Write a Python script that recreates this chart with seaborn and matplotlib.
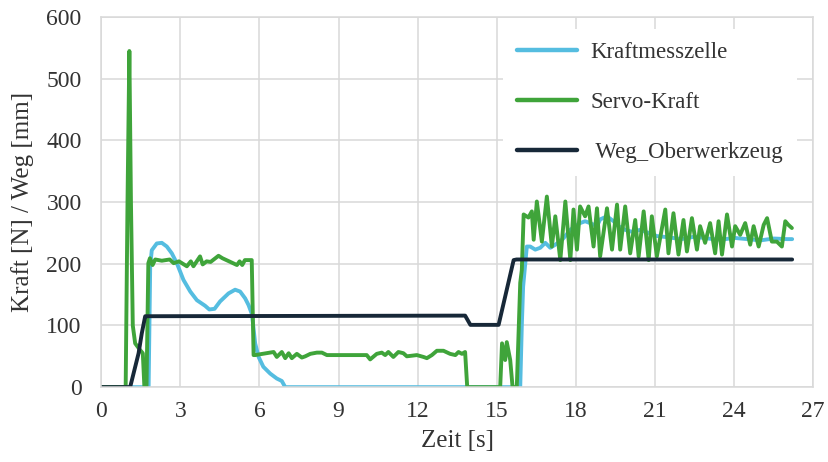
import pandas as pd
import matplotlib.pyplot as plt
import seaborn as sns

# Kraftmesszelle (load cell)
t_kmz = [0, 1.8, 1.86, 1.92, 2.11, 2.3, 2.49, 2.68, 2.87, 3.12, 3.38, 3.63, 3.94, 4.1, 4.3,
         4.51, 4.83, 5.08, 5.27, 5.46, 5.59, 5.72, 5.84, 5.97, 6.15, 6.41, 6.66, 6.85, 6.98,
         15.89, 15.95, 16.0, 16.14, 16.27, 16.46, 16.65, 16.84, 17.03, 17.22, 17.5, 17.79,
         17.97, 18.16, 18.35, 18.54, 18.8, 18.92, 19.18, 19.43, 19.62, 19.87, 20.12, 20.44,
         20.76, 21.07, 21.5, 22.0, 22.5, 23.0, 23.5, 24.0, 24.5, 25.0, 25.5, 26.0, 26.2]
kmz = [0, 0, 196, 222, 233, 234, 228, 217, 201, 174, 155, 141, 132, 126, 127,
       139, 152, 158, 155, 144, 133, 118, 71, 49, 33, 22, 14, 10, 0,
       0, 100, 163, 228, 228, 223, 226, 234, 226, 231, 240, 255,
       261, 266, 269, 266, 261, 272, 277, 269, 261, 255, 252, 255,
       250, 245, 243, 240, 244, 241, 239, 242, 240, 238, 241, 240, 240]

# Servo-Kraft
t_servo = [0, 0.93, 1.0, 1.07, 1.13, 1.2, 1.29, 1.48, 1.58, 1.64, 1.72, 1.79, 1.85, 1.95,
           2.05, 2.3, 2.6, 2.75, 2.95, 3.1, 3.25, 3.4, 3.5, 3.75, 3.85, 4.0, 4.15, 4.45,
           4.6, 4.85, 5.15, 5.25, 5.35, 5.45, 5.71, 5.78, 5.84, 6.54, 6.66, 6.85, 6.98,
           7.11, 7.23, 7.42, 7.61, 7.74, 7.93, 8.18, 8.37, 8.56, 9.0, 9.5, 10.07, 10.2,
           10.45, 10.64, 10.77, 10.89, 11.08, 11.27, 11.46, 11.59, 11.97, 12.22, 12.35,
           12.54, 12.73, 12.98, 13.23, 13.43, 13.55, 13.68, 13.8, 13.88, 15.13, 15.2,
           15.32, 15.38, 15.51, 15.6, 15.76, 15.89, 15.95, 16.02, 16.2, 16.33, 16.4, 16.52,
           16.71, 16.9, 17.09, 17.22, 17.41, 17.6, 17.79, 17.91, 18.04, 18.16, 18.35,
           18.48, 18.67, 18.8, 18.92, 19.18, 19.37, 19.56, 19.68, 19.87, 20.06, 20.25,
           20.38, 20.57, 20.76, 20.88, 21.07, 21.39, 21.51, 21.7, 21.89, 22.08, 22.21,
           22.4, 22.59, 22.71, 22.9, 23.09, 23.28, 23.41, 23.54, 23.73, 23.92, 24.04,
           24.23, 24.42, 24.61, 24.74, 24.93, 25.12, 25.25, 25.43, 25.62, 25.81, 25.94,
           26.06, 26.19]
servo = [0, 0, 300, 545, 300, 100, 71, 60, 55, 0, 0, 201, 209, 198,
         207, 205, 207, 201, 204, 200, 196, 204, 196, 212, 199, 204, 203, 213,
         209, 204, 198, 204, 198, 206, 206, 52, 52, 57, 49, 57, 47,
         55, 47, 54, 48, 50, 54, 56, 56, 52, 52, 52, 52, 45,
         54, 56, 52, 57, 49, 57, 55, 50, 52, 49, 47,
         52, 59, 59, 54, 52, 57, 54, 57, 0, 0, 71,
         44, 73, 44, 0, 0, 169, 190, 280, 275, 285, 239, 301,
         236, 309, 228, 277, 206, 301, 206, 288, 223, 293, 277,
         293, 228, 290, 212, 290, 223, 296, 223, 293, 217, 271,
         212, 285, 206, 277, 212, 288, 217, 282, 215, 271, 220,
         274, 223, 261, 234, 266, 217, 269, 215, 280, 228, 261,
         247, 266, 231, 261, 228, 263, 274, 236, 236, 228, 269,
         263, 258]

# Weg_Oberwerkzeug
t_weg = [0, 1.1, 1.42, 1.54, 1.67, 1.75, 13.8, 14.0, 15.07, 15.64, 15.75, 26.2]
weg = [0, 0, 55, 87, 115, 115, 116, 101, 101, 206, 207, 207]

labels = ["Kraftmesszelle", "Servo-Kraft", " Weg_Oberwerkzeug"]

df = pd.concat([
    pd.DataFrame({"Zeit": t_kmz, "Wert": kmz, "Signal": labels[0]}),
    pd.DataFrame({"Zeit": t_servo, "Wert": servo, "Signal": labels[1]}),
    pd.DataFrame({"Zeit": t_weg, "Wert": weg, "Signal": labels[2]}),
], ignore_index=True)

sns.set_theme(style="whitegrid")
plt.rcParams["font.family"] = ["Liberation Serif", "DejaVu Serif"]

palette = {labels[0]: "#55BDE0", labels[1]: "#3FA43A", labels[2]: "#172838"}

fig = plt.figure(figsize=(8.29, 4.62), dpi=100)
ax = fig.add_axes([0.122, 0.162, 0.859, 0.801])

sns.lineplot(data=df, x="Zeit", y="Wert", hue="Signal", palette=palette,
             estimator=None, sort=False, linewidth=2.8, ax=ax)

ax.set_xlim(0, 27)
ax.set_ylim(0, 600)
ax.set_xticks(range(0, 28, 3))
ax.set_yticks(range(0, 601, 100))
ax.grid(True, color="#D9D9D9", linewidth=1.1)
for s in ax.spines.values():
    s.set_color("#D9D9D9")
    s.set_linewidth(1.1)
ax.tick_params(axis="both", length=0, labelsize=17, colors="#333333")
ax.tick_params(axis="y", pad=14)
ax.tick_params(axis="x", pad=10)

ax.set_xlabel("Zeit [s]", fontsize=18, color="#333333", labelpad=6)
ax.set_ylabel("Kraft [N] / Weg [mm]", fontsize=18, color="#333333", labelpad=9)

leg = ax.legend(loc="upper right", bbox_to_anchor=(0.993, 1.0), fontsize=16.5,
                frameon=True, facecolor="white", edgecolor="none", framealpha=1,
                handlelength=2.6, handletextpad=0.6, labelspacing=1.25,
                borderpad=0.6, title=None)
for line in leg.get_lines():
    line.set_linewidth(3.2)
for txt in leg.get_texts():
    txt.set_color("#333333")

fig.savefig("out.png", dpi=100)
